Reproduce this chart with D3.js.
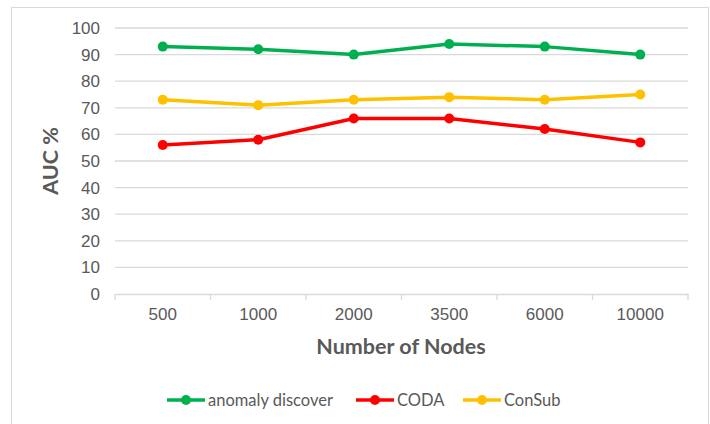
<!DOCTYPE html>
<html>
<head>
<meta charset="utf-8">
<script src="https://cdn.jsdelivr.net/npm/d3@7"></script>
<style>
  body { margin: 0; background: #fff; }
  svg { font-family: Lato, "Liberation Sans", sans-serif; }
</style>
</head>
<body>
<div id="chart"></div>
<script>
// data
var nodes = ["500", "1000", "2000", "3500", "6000", "10000"];
var anomalyDiscover = [93, 92, 90, 94, 93, 90];
var coda = [56, 58, 66, 66, 62, 57];
var conSub = [73, 71, 73, 74, 73, 75];
var yTicks = [0, 10, 20, 30, 40, 50, 60, 70, 80, 90, 100];

var series = [
    { name: "anomaly discover", values: anomalyDiscover, color: "#00B050" },
    { name: "CODA", values: coda, color: "#FF0000" },
    { name: "ConSub", values: conSub, color: "#FFC000" }
];

var svgWidth = 710, svgHeight = 424;
var margin = { top: 28, right: 22, bottom: 130, left: 115 };
var width = 688 - margin.left;
var height = 294 - margin.top;

var svg = d3.select("#chart").append("svg")
    .attr("width", svgWidth)
    .attr("height", svgHeight);

// outer chart frame
svg.append("rect")
    .attr("x", 11.5).attr("y", 7.5)
    .attr("width", 697).attr("height", 430)
    .attr("fill", "none")
    .attr("stroke", "#d9d9d9");

var chartGroup = svg.append("g")
    .attr("transform", `translate(${margin.left}, ${margin.top})`);

var xScale = d3.scaleBand()
    .domain(nodes)
    .range([0, width]);

var yScale = d3.scaleLinear()
    .domain([0, 100])
    .range([height, 0]);

// gridlines
chartGroup.append("g")
    .selectAll("line")
    .data(yTicks.filter(d => d > 0))
    .enter()
    .append("line")
    .attr("x1", 0).attr("x2", width)
    .attr("y1", d => yScale(d)).attr("y2", d => yScale(d))
    .attr("stroke", "#d9d9d9")
    .attr("stroke-width", 1.3);

// y axis labels
var leftAxis = d3.axisLeft(yScale).tickValues(yTicks).tickSize(0).tickPadding(15);
var yAxisG = chartGroup.append("g").call(leftAxis);
yAxisG.select(".domain").remove();
yAxisG.selectAll("text")
    .attr("fill", "#595959")
    .style("font-size", "17px");

// x axis
var bottomAxis = d3.axisBottom(xScale).tickSize(0).tickPadding(14);
var xAxisG = chartGroup.append("g")
    .attr("transform", `translate(0, ${height})`)
    .call(bottomAxis);
xAxisG.select(".domain")
    .attr("stroke", "#d9d9d9")
    .attr("stroke-width", 1.3);
xAxisG.selectAll("text")
    .attr("fill", "#595959")
    .style("font-size", "17px");

// tick marks between categories
xAxisG.selectAll(".sep")
    .data(d3.range(nodes.length + 1))
    .enter()
    .append("line")
    .attr("x1", i => i * xScale.bandwidth())
    .attr("x2", i => i * xScale.bandwidth())
    .attr("y1", 0).attr("y2", 6)
    .attr("stroke", "#d9d9d9")
    .attr("stroke-width", 1.3);

// lines and markers
var line = d3.line()
    .x((d, i) => xScale(nodes[i]) + xScale.bandwidth() / 2)
    .y(d => yScale(d));

series.forEach(s => {
    chartGroup.append("path")
        .datum(s.values)
        .attr("fill", "none")
        .attr("stroke", s.color)
        .attr("stroke-width", 3.5)
        .attr("stroke-linejoin", "round")
        .attr("d", line);

    chartGroup.selectAll(null)
        .data(s.values)
        .enter()
        .append("circle")
        .attr("cx", (d, i) => xScale(nodes[i]) + xScale.bandwidth() / 2)
        .attr("cy", d => yScale(d))
        .attr("r", 5)
        .attr("fill", s.color);
});

// axis titles
svg.append("text")
    .attr("x", 401)
    .attr("y", 354)
    .attr("text-anchor", "middle")
    .attr("fill", "#595959")
    .style("font-size", "21.5px")
    .style("font-weight", "bold")
    .text("Number of Nodes");

svg.append("text")
    .attr("transform", "rotate(-90)")
    .attr("x", -161)
    .attr("y", 58)
    .attr("text-anchor", "middle")
    .attr("fill", "#595959")
    .style("font-size", "21.5px")
    .style("font-weight", "bold")
    .text("AUC %");

// legend
var legendX = [167, 356, 463];
var legend = svg.append("g");
series.forEach((s, i) => {
    var g = legend.append("g").attr("transform", `translate(${legendX[i]}, 400)`);
    g.append("line")
        .attr("x1", 0).attr("x2", 38)
        .attr("y1", 0).attr("y2", 0)
        .attr("stroke", s.color)
        .attr("stroke-width", 3.5);
    g.append("circle")
        .attr("cx", 19).attr("cy", 0).attr("r", 5)
        .attr("fill", s.color);
    g.append("text")
        .attr("x", 41)
        .attr("y", 6)
        .attr("fill", "#595959")
        .style("font-size", "16.5px")
        .text(s.name);
});
</script>
</body>
</html>
